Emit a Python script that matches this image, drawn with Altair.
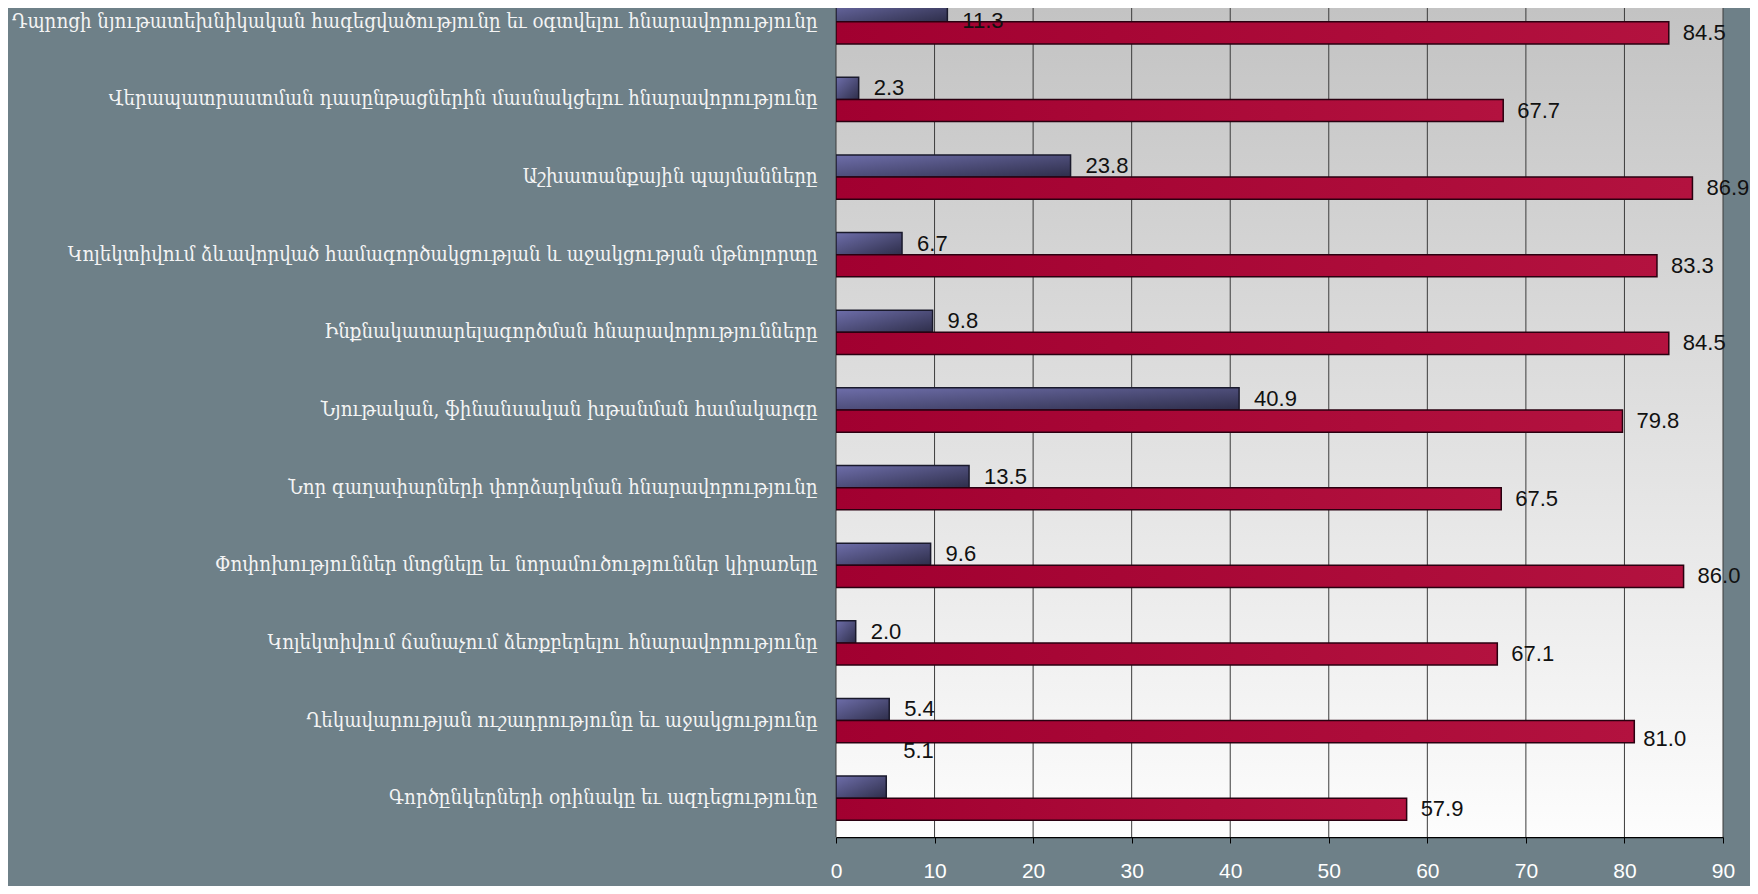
import altair as alt
import pandas as pd

categories = [
    "Դպրոցի նյութատեխնիկական հագեցվածությունը եւ օգտվելու հնարավորությունը",
    "Վերապատրաստման դասընթացներին մասնակցելու հնարավորությունը",
    "Աշխատանքային պայմանները",
    "Կոլեկտիվում ձևավորված համագործակցության և աջակցության մթնոլորտը",
    "Ինքնակատարելագործման հնարավորությունները",
    "Նյութական, ֆինանսական խթանման համակարգը",
    "Նոր գաղափարների փորձարկման հնարավորությունը",
    "Փոփոխություններ մտցնելը եւ նորամուծություններ կիրառելը",
    "Կոլեկտիվում ճանաչում ձեռքբերելու հնարավորությունը",
    "Ղեկավարության ուշադրությունը եւ աջակցությունը",
    "Գործընկերների օրինակը եւ ազդեցությունը",
]
blue_values = [11.3, 2.3, 23.8, 6.7, 9.8, 40.9, 13.5, 9.6, 2.0, 5.4, 5.1]
red_values = [84.5, 67.7, 86.9, 83.3, 84.5, 79.8, 67.5, 86.0, 67.1, 81.0, 57.9]
series = ["Շարք 1", "Շարք 2"]
x_ticks = [0, 10, 20, 30, 40, 50, 60, 70, 80, 90]

rows = []
for i, c in enumerate(categories):
    rows.append({"category": c, "series": series[0], "value": blue_values[i]})
    rows.append({"category": c, "series": series[1], "value": red_values[i]})
df = pd.DataFrame(rows)
grid_df = pd.DataFrame({"tick": x_ticks})
bg_df = pd.DataFrame({"one": [0]})

y_enc = alt.Y(
    "category:N",
    sort=categories,
    scale=alt.Scale(range=[-25, 829], paddingInner=0.43, paddingOuter=0.215),
    axis=alt.Axis(
        title=None,
        labelColor="#f4f4f4",
        labelFont="DejaVu Serif Condensed, DejaVu Serif",
        labelFontSize=20.3,
        labelPadding=19,
        ticks=False,
        domainColor="#3a3a3a",
        domainWidth=1,
        labelLimit=1000,
    ),
)
yoff = alt.YOffset("series:N", scale=alt.Scale(domain=series))
x_scale = alt.Scale(domain=[0, 90], nice=False, zero=True)
x_enc = alt.X(
    "value:Q",
    scale=x_scale,
    axis=alt.Axis(
        values=x_ticks,
        title=None,
        grid=False,
        labelColor="white",
        labelFont="Liberation Sans, Arial",
        labelFontSize=21,
        tickSize=6,
        tickColor="black",
        domainColor="black",
        domainWidth=1.5,
        labelPadding=17,
        labelFlush=False,
    ),
)

blue_grad = alt.LinearGradient(
    gradient="linear",
    stops=[alt.GradientStop(offset=0, color="#6e6eaa"),
           alt.GradientStop(offset=1, color="#2e2e4a")],
    x1=0, y1=0, x2=1, y2=1,
)
red_grad = alt.LinearGradient(
    gradient="linear",
    stops=[alt.GradientStop(offset=0, color="#a10030"),
           alt.GradientStop(offset=1, color="#b3123f")],
    x1=0, y1=0, x2=1, y2=0,
)
view_grad = alt.LinearGradient(
    gradient="linear",
    stops=[alt.GradientStop(offset=0, color="#c3c3c3"),
           alt.GradientStop(offset=1, color="#fdfdfd")],
    x1=0, y1=0, x2=0, y2=1,
)

bg = alt.Chart(bg_df).mark_rect(fill=view_grad).encode(
    x=alt.value(0), x2=alt.value("width"), y=alt.value(0), y2=alt.value("height")
)

grid = alt.Chart(grid_df).mark_rule(color="#3c3c3c", strokeWidth=1).encode(
    x=alt.X("tick:Q", scale=x_scale), y=alt.value(0), y2=alt.value("height")
)

base = alt.Chart(df)

blue_bars = base.transform_filter(alt.datum.series == series[0]).mark_bar(
    fill=blue_grad, stroke="#1a1a2c", strokeWidth=1.5, clip=True
).encode(x=x_enc, y=y_enc, yOffset=yoff)

red_bars = base.transform_filter(alt.datum.series == series[1]).mark_bar(
    fill=red_grad, stroke="#2a0010", strokeWidth=1.5, clip=True
).encode(x=x_enc, y=y_enc, yOffset=yoff)

text_style = dict(align="left", baseline="middle", font="Liberation Sans, Arial",
                  fontSize=22, color="#111111")
txt = alt.Text("value:Q", format=".1f")

blue_text = base.transform_filter(
    (alt.datum.series == series[0])
    & (alt.datum.category != categories[10])
    & (alt.datum.category != categories[0])
).mark_text(dx=15, **text_style).encode(x=x_enc, y=y_enc, yOffset=yoff, text=txt)

blue_text_top = base.transform_filter(
    (alt.datum.series == series[0]) & (alt.datum.category == categories[0])
).mark_text(dx=15, dy=10, **text_style).encode(x=x_enc, y=y_enc, yOffset=yoff, text=txt)

blue_text_moved = base.transform_filter(
    (alt.datum.series == series[0]) & (alt.datum.category == categories[10])
).mark_text(dx=17, dy=-36, **text_style).encode(x=x_enc, y=y_enc, yOffset=yoff, text=txt)

red_text = base.transform_filter(
    (alt.datum.series == series[1]) & (alt.datum.category != categories[9])
).mark_text(dx=14, **text_style).encode(x=x_enc, y=y_enc, yOffset=yoff, text=txt)

red_text_moved = base.transform_filter(
    (alt.datum.series == series[1]) & (alt.datum.category == categories[9])
).mark_text(dx=9, dy=7, **text_style).encode(x=x_enc, y=y_enc, yOffset=yoff, text=txt)

chart = alt.layer(
    bg, grid, blue_bars, red_bars, blue_text, blue_text_top, blue_text_moved,
    red_text, red_text_moved
).properties(
    width=887,
    height=829,
    background="#6e8088",
    padding={"left": 828, "top": 0, "right": 27, "bottom": 49},
    autosize=alt.AutoSizeParams(type="none"),
).configure_view(
    strokeWidth=0,
)

chart.save("out.html", embed_options={"renderer": "svg", "actions": False})
